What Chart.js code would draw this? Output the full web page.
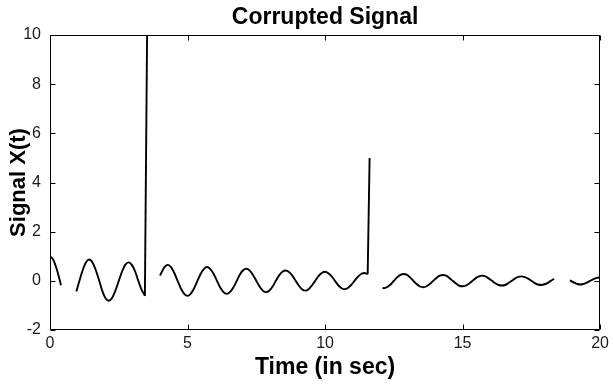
<!DOCTYPE html>
<html>
<head>
<meta charset="utf-8">
<script src="https://cdn.jsdelivr.net/npm/chart.js@4.4.1/dist/chart.umd.min.js"></script>
<style>html,body{margin:0;padding:0;background:#fff}canvas{display:block}</style>
</head>
<body>
<canvas id="c" width="613" height="385"></canvas>
<script>
// ---- data ----
const seg1Time   = [0.00, 0.12, 0.24, 0.36, 0.40];
const seg1Signal = [1.00, 0.86, 0.49, 0.00, -0.18];

const seg2Time   = [0.96, 1.07, 1.19, 1.31, 1.43, 1.55, 1.67, 1.79, 1.90, 2.02, 2.14, 2.26, 2.38, 2.50, 2.62, 2.74, 2.86, 2.98, 3.10, 3.21, 3.33, 3.45];
const seg2Signal = [-0.43, 0.00, 0.44, 0.76, 0.87, 0.74, 0.42, 0.00, -0.41, -0.71, -0.81, -0.69, -0.39, 0.00, 0.38, 0.66, 0.75, 0.64, 0.37, 0.00, -0.36, -0.61];

const seg3Time   = [4.00, 4.05, 4.17, 4.29, 4.40, 4.52, 4.64, 4.76, 4.88, 5.00, 5.12, 5.24, 5.36, 5.48, 5.60,
                    5.71, 5.83, 5.95, 6.07, 6.19, 6.31, 6.43, 6.55, 6.67, 6.79, 6.90, 7.02,
                    7.14, 7.26, 7.38, 7.50, 7.62, 7.74, 7.86, 7.98, 8.10, 8.21, 8.33, 8.45,
                    8.57, 8.69, 8.81, 8.93, 9.05, 9.17, 9.29, 9.40, 9.52, 9.64, 9.76, 9.88,
                    10.00, 10.12, 10.24, 10.36, 10.48, 10.60, 10.71, 10.83, 10.95, 11.07, 11.19, 11.31,
                    11.43, 11.55];
const seg3Signal = [0.21, 0.33, 0.57, 0.65, 0.56, 0.32, 0.00, -0.31, -0.53, -0.61, -0.52, -0.30, 0.00, 0.29, 0.49,
                    0.56, 0.48, 0.28, 0.00, -0.27, -0.46, -0.53, -0.45, -0.26, 0.00, 0.25, 0.43,
                    0.49, 0.42, 0.24, 0.00, -0.23, -0.40, -0.46, -0.39, -0.22, 0.00, 0.22, 0.37,
                    0.42, 0.36, 0.21, 0.00, -0.20, -0.35, -0.40, -0.34, -0.19, 0.00, 0.19, 0.32,
                    0.37, 0.31, 0.18, 0.00, -0.18, -0.30, -0.34, -0.29, -0.17, 0.00, 0.16, 0.28,
                    0.32, 0.27];

const seg4Time   = [12.09, 12.14, 12.26, 12.38, 12.50, 12.62, 12.74,
                    12.86, 12.98, 13.10, 13.21, 13.33, 13.45, 13.57, 13.69, 13.81, 13.93, 14.05, 14.17,
                    14.29, 14.40, 14.52, 14.64, 14.76, 14.88, 15.00, 15.12, 15.24, 15.36, 15.48, 15.60,
                    15.71, 15.83, 15.95, 16.07, 16.19, 16.31, 16.43, 16.55, 16.67, 16.79, 16.90, 17.02,
                    17.14, 17.26, 17.38, 17.50, 17.62, 17.74, 17.86, 17.98, 18.10, 18.21, 18.33];
const seg4Signal = [-0.28, -0.30, -0.25, -0.15, 0.00, 0.14, 0.24,
                    0.28, 0.24, 0.13, 0.00, -0.13, -0.23, -0.26, -0.22, -0.13, 0.00, 0.12, 0.21,
                    0.24, 0.21, 0.12, 0.00, -0.11, -0.20, -0.22, -0.19, -0.11, 0.00, 0.11, 0.18,
                    0.21, 0.18, 0.10, 0.00, -0.10, -0.17, -0.19, -0.17, -0.09, 0.00, 0.09, 0.16,
                    0.18, 0.15, 0.09, 0.00, -0.09, -0.15, -0.17, -0.14, -0.08, 0.00, 0.08];

const seg5Time   = [18.90, 19.05, 19.17, 19.29, 19.40, 19.52, 19.64, 19.76, 19.88, 20.00];
const seg5Signal = [0.02, -0.07, -0.13, -0.15, -0.12, -0.07, 0.00, 0.07, 0.12, 0.14];

const spike1Time   = [3.45, 3.55];
const spike1Signal = [-0.61, 12.7];
const spike2Time   = [11.55, 11.62];
const spike2Signal = [0.27, 5.0];

const xTickValues = [0, 5, 10, 15, 20];
const yTickValues = [-2, 0, 2, 4, 6, 8, 10];
const chartTitle = 'Corrupted Signal';
const xAxisLabel = 'Time (in sec)';
const yAxisLabel = 'Signal X(t)';

// ---- build ----
const FONT = '"Liberation Sans", Arial, Helvetica, sans-serif';
function pts(t, v) { return t.map((x, i) => ({ x: x, y: v[i] })); }
function smooth(t, v) {
  return { data: pts(t, v), borderColor: '#000', borderWidth: 1.9, pointRadius: 0,
           fill: false, cubicInterpolationMode: 'monotone' };
}
function straight(t, v) {
  return { data: pts(t, v), borderColor: '#000', borderWidth: 1.9, pointRadius: 0,
           fill: false, tension: 0 };
}

const frame = {
  id: 'frame',
  afterDraw(chart) {
    const { ctx, chartArea: a, scales: { x, y } } = chart;
    ctx.save();
    ctx.strokeStyle = '#000';
    ctx.lineWidth = 1;
    const L = Math.round(a.left) + 0.5, R = Math.round(a.right) - 0.5;
    const T = Math.round(a.top) + 0.5, B = Math.round(a.bottom) - 0.5;
    ctx.beginPath();
    ctx.rect(L, T, R - L, B - T);
    const tl = 5;
    xTickValues.forEach(v => {
      const px = Math.round(x.getPixelForValue(v)) + 0.5;
      ctx.moveTo(px, B); ctx.lineTo(px, B - tl);
      ctx.moveTo(px, T); ctx.lineTo(px, T + tl);
    });
    yTickValues.forEach(v => {
      const py = Math.round(y.getPixelForValue(v)) + 0.5;
      ctx.moveTo(L, py); ctx.lineTo(L + tl, py);
      ctx.moveTo(R, py); ctx.lineTo(R - tl, py);
    });
    ctx.stroke();
    ctx.restore();
  }
};

new Chart(document.getElementById('c'), {
  type: 'line',
  data: {
    datasets: [
      smooth(seg1Time, seg1Signal),
      smooth(seg2Time, seg2Signal),
      smooth(seg3Time, seg3Signal),
      smooth(seg4Time, seg4Signal),
      smooth(seg5Time, seg5Signal),
      straight(spike1Time, spike1Signal),
      straight(spike2Time, spike2Signal)
    ]
  },
  options: {
    responsive: false,
    animation: false,
    devicePixelRatio: 1,
    layout: { padding: { left: 0, right: 11, top: 0, bottom: 0 } },
    plugins: {
      legend: { display: false },
      tooltip: { enabled: false },
      title: {
        display: true, text: chartTitle, color: '#000', fullSize: false,
        font: { family: FONT, size: 23, weight: 'bold', lineHeight: 1 },
        padding: { top: 6, bottom: 6 }
      }
    },
    scales: {
      x: {
        type: 'linear', min: 0, max: 20,
        afterBuildTicks: s => { s.ticks = xTickValues.map(v => ({ value: v })); },
        afterFit: s => { s.height = 55; },
        grid: { display: false, drawTicks: false },
        border: { display: false },
        ticks: { color: '#1a1a1a', font: { family: FONT, size: 16 }, padding: 4,
                 maxRotation: 0, autoSkip: false },
        title: { display: true, text: xAxisLabel, color: '#000',
                 font: { family: FONT, size: 23, weight: 'bold', lineHeight: 1.2 },
                 padding: { top: 0, bottom: 4 } }
      },
      y: {
        type: 'linear', min: -2, max: 10,
        afterBuildTicks: s => { s.ticks = yTickValues.map(v => ({ value: v })); },
        afterFit: s => { s.width = 50; },
        grid: { display: false, drawTicks: false },
        border: { display: false },
        ticks: { color: '#1a1a1a', font: { family: FONT, size: 16 }, padding: 9, autoSkip: false },
        title: { display: true, text: yAxisLabel, color: '#000',
                 font: { family: FONT, size: 22, weight: 'bold', lineHeight: 1.2 },
                 padding: { top: 6, bottom: 0 } }
      }
    }
  },
  plugins: [frame]
});
</script>
</body>
</html>
